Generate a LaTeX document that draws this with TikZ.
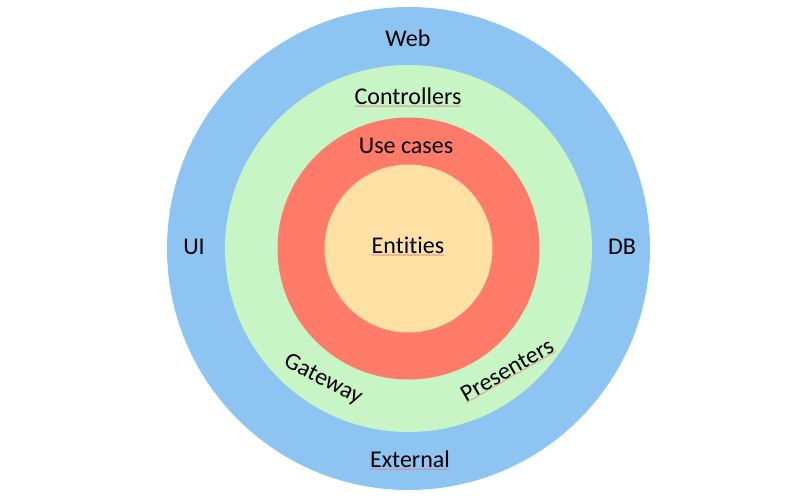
\documentclass[tikz,border=0pt]{standalone}
\usepackage{fontspec}
\setmainfont{Carlito}[Ligatures={NoCommon}]
\usetikzlibrary{decorations.pathmorphing}
\definecolor{ringblue}{HTML}{8DC4F2}
\definecolor{ringgreen}{HTML}{C7F5C5}
\definecolor{ringred}{HTML}{FF7B69}
\definecolor{ringyellow}{HTML}{FFE1A6}
\definecolor{squigred}{HTML}{E08080}
\tikzset{
  lbl/.style={font=\fontsize{24}{28}\selectfont, text=black, inner sep=0pt},
  squig/.style={draw=squigred, line width=0.5pt, decorate, decoration={snake, amplitude=0.5pt, segment length=2.5pt}},
}
\begin{document}
\begin{tikzpicture}[x=1pt,y=-1pt]
\useasboundingbox (0,0) rectangle (800,497);
\coordinate (c) at (408.5,248.5);
\fill[ringblue] (c) circle[radius=241.5];
\fill[ringgreen] (c) circle[radius=183.5];
\fill[ringred] (c) circle[radius=131];
\fill[ringyellow] (c) circle[radius=84];
\node[lbl] (web) at (408,38) {Web};
\node[lbl] (ctrl) at (408,96) {Controllers};
\node[lbl] (uc) at (406,146) {Use cases};
\node[lbl] (ent) at (408,245) {Entities};
\node[lbl] (ui) at (194,247) {UI};
\node[lbl] (db) at (622,247) {DB};
\node[lbl] (ext) at (410,459) {External};
\node[lbl, rotate=-27] (gate) at (323,380) {Gateway};
\node[lbl, rotate=30] (pres) at (507,370) {Presenters};
\draw[squig] ([yshift=-1.5pt]ctrl.south west) -- ([yshift=-1.5pt]ctrl.south east);
\draw[squig] ([yshift=-1.5pt]ent.south west) -- ([yshift=-1.5pt]ent.south east);
\draw[squig] ([yshift=-1.5pt]ext.south west) -- ([yshift=-1.5pt]ext.south east);
\draw[squig] (pres.south west) -- (pres.south east);
\end{tikzpicture}
\end{document}
